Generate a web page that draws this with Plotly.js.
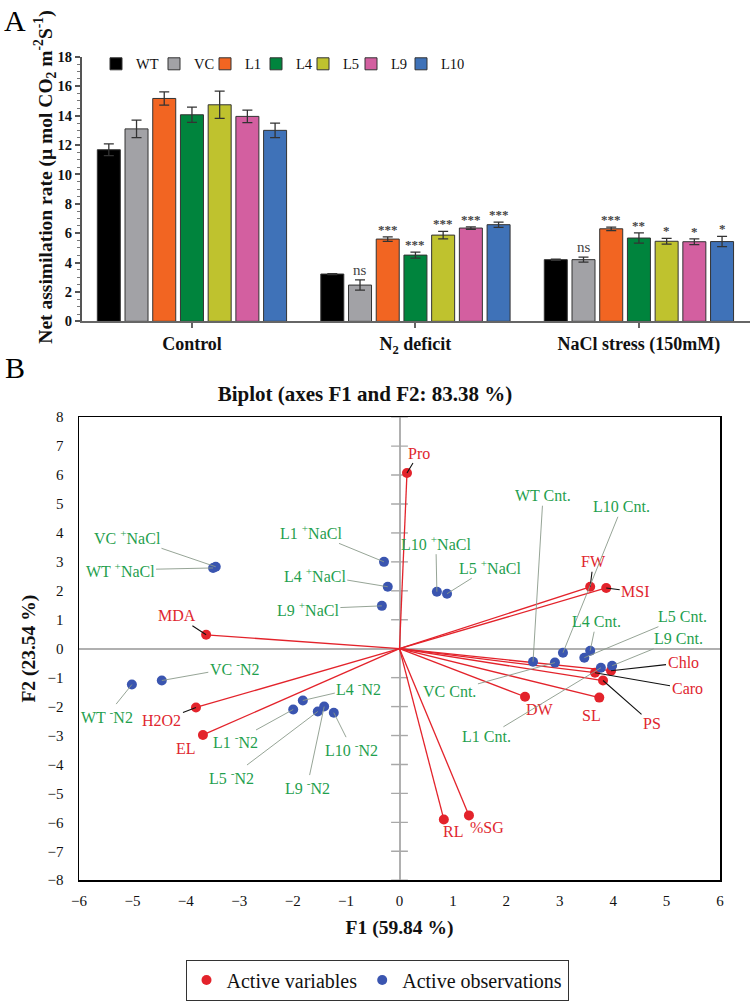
<!DOCTYPE html>
<html><head><meta charset="utf-8">
<script src="https://cdn.plot.ly/plotly-3.0.1.min.js"></script>
<style>html,body{margin:0;padding:0;background:#fff}#chart{width:752px;height:1001px}</style>
</head><body><div id="chart"></div>
<script>
// ---------- Panel A data ----------
const groups = ['Control', 'N<sub>2</sub> deficit', 'NaCl stress (150mM)'];
const lines = ['WT', 'VC', 'L1', 'L4', 'L5', 'L9', 'L10'];
const lineColors = ['#000000', '#a2a2a6', '#f26522', '#00843d', '#bfc22e', '#d35fa0', '#3f72b8'];
const wtVals = [11.68, 3.22, 4.20];
const vcVals = [13.10, 2.47, 4.20];
const l1Vals = [15.17, 5.60, 6.30];
const l4Vals = [14.06, 4.51, 5.67];
const l5Vals = [14.74, 5.87, 5.45];
const l9Vals = [13.95, 6.35, 5.42];
const l10Vals = [13.00, 6.58, 5.43];
const wtErr = [0.40, 0.03, 0.04];
const vcErr = [0.60, 0.35, 0.17];
const l1Err = [0.45, 0.15, 0.12];
const l4Err = [0.52, 0.20, 0.35];
const l5Err = [0.93, 0.25, 0.20];
const l9Err = [0.42, 0.08, 0.20];
const l10Err = [0.49, 0.18, 0.35];
const sigControl = ['', '', '', '', '', '', ''];
const sigN2 = ['', 'ns', '***', '***', '***', '***', '***'];
const sigNaCl = ['', 'ns', '***', '**', '*', '*', '*'];

// ---------- Panel B data ----------
const varNames = ['Pro', 'MDA', 'H2O2', 'EL', 'FW', 'MSI', 'Chlo', 'Caro', 'PS', 'SL', 'DW', 'RL', '%SG'];
const varF1 = [0.14, -3.62, -3.81, -3.68, 3.57, 3.87, 3.96, 3.66, 3.81, 3.74, 2.35, 0.83, 1.30];
const varF2 = [6.07, 0.48, -2.03, -2.98, 2.14, 2.10, -0.76, -0.83, -1.10, -1.69, -1.66, -5.90, -5.76];
const obsNames = ['WT <sup>+</sup>NaCl', 'VC <sup>+</sup>NaCl', 'L1 <sup>+</sup>NaCl', 'L4 <sup>+</sup>NaCl', 'L9 <sup>+</sup>NaCl', 'L10 <sup>+</sup>NaCl', 'L5 <sup>+</sup>NaCl',
  'WT Cnt.', 'VC Cnt.', 'L10 Cnt.', 'L4 Cnt.', 'L5 Cnt.', 'L1 Cnt.', 'L9 Cnt.',
  'WT <sup>-</sup>N2', 'VC <sup>-</sup>N2', 'L4 <sup>-</sup>N2', 'L1 <sup>-</sup>N2', 'L5 <sup>-</sup>N2', 'L9 <sup>-</sup>N2', 'L10 <sup>-</sup>N2'];
const obsF1 = [-3.49, -3.44, -0.29, -0.22, -0.33, 0.70, 0.89, 2.50, 2.91, 3.06, 3.57, 3.46, 3.77, 3.98, -5.01, -4.45, -1.81, -1.99, -1.53, -1.41, -1.23];
const obsF2 = [2.79, 2.83, 3.00, 2.14, 1.48, 1.97, 1.90, -0.45, -0.48, -0.14, -0.07, -0.31, -0.66, -0.59, -1.24, -1.10, -1.79, -2.10, -2.17, -2.00, -2.21];
const axisTicksB = [-8, -7, -6, -5, -4, -3, -2, -1, 0, 1, 2, 3, 4, 5, 6, 7, 8];

// ---------- placement / style (not data) ----------
const legendEntryWidths = [13, 6, 6, 2, 3, 5, 0];
const varLabelPos = [[12,-20,1],[-29,-19,1],[-34,13,1],[-17,14,0],[3,-25,1],[29,4,1],[72,-8,1],[92,16,1],[49,43,1],[-8,18,0],[15,13,0],[9,12,0],[18,12,0]];
const obsLabelPos = [[-93,2],[-88,-30],[-73,-30],[-73,-12],[-74,3],[-1,-49],[43,-27],
  [10,-166],[-105,29],[59,-146],[6,-29],[98,-41],[-114,69],[66,-27],
  [-25,31],[73,-13],[56,-13],[-58,32],[-86,65],[-17,80],[18,36]];

const SERIF = 'Liberation Serif, Times New Roman, serif';
const W = 752, H = 1001;
const px = v => v / W, py = v => 1 - v / H;

const allVals = [wtVals, vcVals, l1Vals, l4Vals, l5Vals, l9Vals, l10Vals];
const allErr = [wtErr, vcErr, l1Err, l4Err, l5Err, l9Err, l10Err];
const allSig = [sigControl, sigN2, sigNaCl];
const BARGAP = 0.132;

const traces = [];
lines.forEach((name, i) => {
  traces.push({
    type: 'bar', name: name, x: groups, y: allVals[i], xaxis: 'x', yaxis: 'y', legend: 'legend',
    legendwidth: legendEntryWidths[i],
    marker: {color: lineColors[i], line: {color: '#333', width: 1}},
    error_y: {type: 'data', array: allErr[i], visible: true, color: '#333', thickness: 1.3, width: 5},
    hoverinfo: 'skip'
  });
});

// Panel B traces
const lx = [], ly = [];
varF1.forEach((v, i) => { lx.push(0, v, null); ly.push(0, varF2[i], null); });
traces.push({type: 'scatter', mode: 'markers', x: axisTicksB.map(() => 0), y: axisTicksB, xaxis: 'x2', yaxis: 'y2',
  marker: {symbol: 'line-ew', size: 12, line: {color: '#a8a8a8', width: 1.4}}, showlegend: false, hoverinfo: 'skip'});
traces.push({type: 'scatter', mode: 'lines', x: lx, y: ly, xaxis: 'x2', yaxis: 'y2',
  line: {color: '#e3232b', width: 1.3}, showlegend: false, hoverinfo: 'skip'});
traces.push({type: 'scatter', mode: 'markers', name: 'Active variables', x: varF1, y: varF2, xaxis: 'x2', yaxis: 'y2', legend: 'legend2',
  marker: {color: '#e3232b', size: 10}});
traces.push({type: 'scatter', mode: 'markers', name: 'Active observations', x: obsF1, y: obsF2, xaxis: 'x2', yaxis: 'y2', legend: 'legend2',
  marker: {color: '#3a55b0', size: 10}});

const annotations = [];
// significance marks
allSig.forEach((sigs, g) => {
  sigs.forEach((s, i) => {
    if (!s) return;
    annotations.push({
      xref: 'x', yref: 'y', x: g + (i - 3) * (1 - BARGAP) / 7, y: allVals[i][g] + allErr[i][g],
      text: s, showarrow: false, yanchor: 'bottom', yshift: s === 'ns' ? 0 : -2,
      font: {family: SERIF, size: s === 'ns' ? 15 : 13, color: '#444', weight: s === 'ns' ? 'normal' : 'bold'}
    });
  });
});
// variable labels
varNames.forEach((n, i) => {
  const p = varLabelPos[i];
  annotations.push({xref: 'x2', yref: 'y2', x: varF1[i], y: varF2[i], text: n, showarrow: true,
    ax: p[0], ay: p[1], arrowhead: 0, arrowwidth: 1.1, standoff: 0,
    arrowcolor: p[2] ? '#111' : 'rgba(0,0,0,0)',
    font: {family: SERIF, size: 16, color: '#e0262e'}});
});
// observation labels
obsNames.forEach((n, i) => {
  const p = obsLabelPos[i];
  annotations.push({xref: 'x2', yref: 'y2', x: obsF1[i], y: obsF2[i], text: n, showarrow: true,
    ax: p[0], ay: p[1], arrowhead: 0, arrowwidth: 0.9, standoff: 0, arrowcolor: '#8a9a8a',
    font: {family: SERIF, size: 16, color: '#1fa04e'}});
});
// panel letters
annotations.push({xref: 'paper', yref: 'paper', x: px(15), y: py(21), xanchor: 'center', yanchor: 'middle', text: 'A', showarrow: false, font: {family: SERIF, size: 30, color: '#000'}});
annotations.push({xref: 'paper', yref: 'paper', x: px(15), y: py(368), xanchor: 'center', yanchor: 'middle', text: 'B', showarrow: false, font: {family: SERIF, size: 30, color: '#000'}});
// panel A y-axis title
annotations.push({xref: 'paper', yref: 'paper', x: px(45), y: py(178), xanchor: 'center', yanchor: 'middle', textangle: -90, showarrow: false,
  text: 'Net assimilation rate (µ mol CO<sub>2</sub> m<sup>-2</sup>S<sup>-1</sup>)', font: {family: SERIF, size: 19.5, weight: 'bold', color: '#111'}});

const layout = {
  width: W, height: H, margin: {l: 0, r: 0, t: 0, b: 0},
  paper_bgcolor: '#fff', plot_bgcolor: 'rgba(0,0,0,0)',
  font: {family: SERIF, color: '#000'},
  barmode: 'group', bargap: BARGAP, bargroupgap: 0.17,
  title: {text: '<b>Biplot (axes F1 and F2: 83.38 %)</b>', font: {family: SERIF, size: 21, color: '#111'},
    x: px(365), xanchor: 'center', xref: 'container', y: py(394), yanchor: 'middle', yref: 'container'},
  xaxis: {domain: [px(82), px(750)], anchor: 'y', type: 'category', range: [-0.492, 2.497],
    showline: true, linecolor: '#666', linewidth: 2, ticks: 'outside', ticklen: 5, tickwidth: 2, tickcolor: '#666',
    tickfont: {family: SERIF, size: 18, weight: 'bold', color: '#111'}, showgrid: false, zeroline: false, automargin: false, fixedrange: true},
  yaxis: {domain: [py(322), py(57)], anchor: 'x', range: [0, 18], dtick: 2,
    showline: true, linecolor: '#555', linewidth: 2, ticks: 'outside', ticklen: 5, tickwidth: 2, tickcolor: '#555',
    minor: {ticks: 'outside', ticklen: 3, dtick: 0.5, tickcolor: '#777', tickwidth: 1},
    tickfont: {family: SERIF, size: 14.5, weight: 'bold', color: '#111'}, showgrid: false, zeroline: false, automargin: false},
  xaxis2: {domain: [px(79), px(720)], anchor: 'y2', range: [-6, 6], dtick: 1,
    showline: true, mirror: true, linecolor: '#000', linewidth: 1.5, ticks: '', ticklabelstandoff: 6,
    tickfont: {family: SERIF, size: 15, color: '#111'}, showgrid: false, zeroline: true, zerolinecolor: '#b0b0b0', zerolinewidth: 2, automargin: false,
    title: {text: 'F1 (59.84 %)', font: {family: SERIF, size: 19.5, weight: 'bold', color: '#111'}, standoff: 12}},
  yaxis2: {domain: [py(882), py(418)], anchor: 'x2', range: [-8, 8], dtick: 1,
    showline: true, mirror: true, linecolor: '#000', linewidth: 1.5, ticks: '', ticklabelstandoff: 11,
    tickfont: {family: SERIF, size: 15, color: '#111'}, showgrid: false, zeroline: true, zerolinecolor: '#b0b0b0', zerolinewidth: 2, automargin: false,
    title: {text: 'F2 (23.54 %)', font: {family: SERIF, size: 19.5, weight: 'bold', color: '#111'}, standoff: 6}},
  legend: {orientation: 'h', x: px(96), xanchor: 'left', y: py(64), yanchor: 'middle',
    font: {family: SERIF, size: 14.5, color: '#111'}, bgcolor: 'rgba(0,0,0,0)', traceorder: 'normal', itemclick: false},
  legend2: {orientation: 'h', x: px(377), xanchor: 'center', y: py(982), yanchor: 'middle',
    font: {family: SERIF, size: 20, color: '#111'}, bgcolor: '#fff', bordercolor: '#333', borderwidth: 1, itemclick: false},
  showlegend: true,
  annotations: annotations
};

Plotly.newPlot('chart', traces, layout, {displayModeBar: false, staticPlot: true});
</script></body></html>
